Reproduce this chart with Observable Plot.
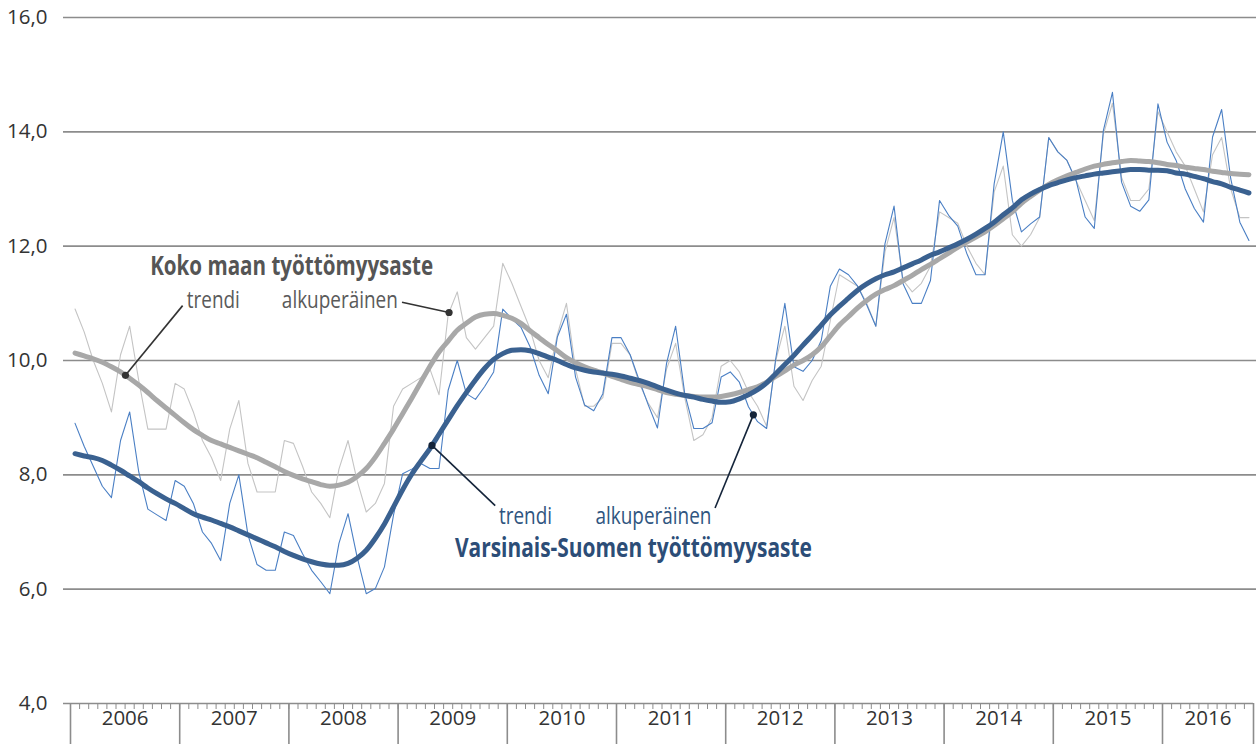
<!DOCTYPE html>
<html><head><meta charset="utf-8">
<script src="https://cdn.jsdelivr.net/npm/d3@7"></script>
<script src="https://cdn.jsdelivr.net/npm/@observablehq/plot@0.6"></script>
<style>
html,body{margin:0;padding:0;background:#fff}
#chart svg{display:block}
</style>
</head><body><div id="chart"></div>
<script>
// ---- data (monthly, Jan 2006 – Oct 2016) ----
const years = [2006, 2007, 2008, 2009, 2010, 2011, 2012, 2013, 2014, 2015, 2016];
const yTicks = [4, 6, 8, 10, 12, 14, 16];

// Koko maan työttömyysaste, alkuperäinen
const kokoAlkup = [
  10.9, 10.5, 10.0, 9.6, 9.1, 10.1, 10.6, 9.65, 8.8, 8.8, 8.8, 9.6,
  9.5, 9.1, 8.6, 8.3, 7.9, 8.8, 9.3, 8.2, 7.7, 7.7, 7.7, 8.6,
  8.55, 8.15, 7.7, 7.5, 7.25, 8.1, 8.6, 7.9, 7.35, 7.5, 7.85, 9.2,
  9.5, 9.6, 9.7, 9.85, 9.4, 10.8, 11.2, 10.4, 10.2, 10.4, 10.6, 11.7,
  11.35, 10.95, 10.55, 10.0, 9.7, 10.45, 11.0, 9.85, 9.2, 9.2, 9.35, 10.3,
  10.3, 10.1, 9.6, 9.25, 9.0, 9.85, 10.3, 9.35, 8.6, 8.7, 9.0, 9.9,
  10.0, 9.8, 9.45, 9.2, 8.85, 10.0, 10.6, 9.55, 9.3, 9.65, 9.9, 10.7,
  11.5, 11.4, 11.3, 11.0, 10.6, 11.9, 12.5, 11.4, 11.2, 11.35, 11.65, 12.6,
  12.5, 12.4, 12.0, 11.7, 11.5, 12.95, 13.4, 12.2, 12.0, 12.2, 12.5, 13.9,
  13.65, 13.5, 13.15, 12.8, 12.45, 13.95, 14.5, 13.2, 12.8, 12.8, 13.0, 14.35,
  14.0, 13.65, 13.4, 13.0, 12.6, 13.6, 13.9, 13.0, 12.5, 12.5
];
// Koko maan työttömyysaste, trendi
const kokoTrendi = [
  10.13, 10.08, 10.03, 9.97, 9.89, 9.80, 9.69, 9.57, 9.44, 9.30, 9.17, 9.04,
  8.91, 8.79, 8.69, 8.60, 8.54, 8.48, 8.42, 8.36, 8.30, 8.22, 8.14, 8.06,
  7.99, 7.93, 7.88, 7.83, 7.80, 7.82, 7.87, 7.97, 8.11, 8.31, 8.55, 8.80,
  9.07, 9.34, 9.62, 9.90, 10.15, 10.34, 10.53, 10.65, 10.76, 10.81, 10.82, 10.79,
  10.74, 10.65, 10.52, 10.40, 10.28, 10.17, 10.05, 9.96, 9.89, 9.83, 9.78, 9.72,
  9.67, 9.62, 9.58, 9.54, 9.49, 9.44, 9.41, 9.39, 9.37, 9.36, 9.36, 9.37,
  9.40, 9.44, 9.49, 9.54, 9.62, 9.72, 9.82, 9.92, 10.00, 10.10, 10.24, 10.43,
  10.62, 10.77, 10.92, 11.05, 11.16, 11.24, 11.31, 11.40, 11.49, 11.59, 11.68, 11.78,
  11.88, 11.98, 12.07, 12.16, 12.25, 12.36, 12.48, 12.60, 12.75, 12.87, 12.98, 13.08,
  13.16, 13.23, 13.29, 13.35, 13.40, 13.43, 13.46, 13.48, 13.50, 13.49, 13.48, 13.46,
  13.43, 13.41, 13.38, 13.36, 13.34, 13.31, 13.29, 13.27, 13.26, 13.25
];
// Varsinais-Suomen työttömyysaste, alkuperäinen
const vsAlkup = [
  8.9, 8.5, 8.15, 7.8, 7.6, 8.6, 9.1, 8.05, 7.4, 7.3, 7.2, 7.9,
  7.8, 7.5, 7.0, 6.8, 6.5, 7.5, 8.0, 6.95, 6.43, 6.33, 6.33, 7.0,
  6.94, 6.62, 6.33, 6.13, 5.92, 6.8, 7.32, 6.56, 5.92, 6.01, 6.39, 7.3,
  8.02, 8.1, 8.2, 8.11, 8.11, 9.48, 10.0, 9.42, 9.32, 9.54, 9.8, 10.9,
  10.73, 10.58, 10.24, 9.74, 9.42, 10.41, 10.81, 9.71, 9.22, 9.12, 9.42, 10.4,
  10.4, 10.1, 9.65, 9.22, 8.82, 9.95, 10.6, 9.42, 8.81, 8.81, 8.91, 9.71,
  9.8, 9.62, 9.19, 8.93, 8.81, 10.03, 11.0, 9.89, 9.81, 10.0, 10.35, 11.3,
  11.6, 11.5, 11.3, 10.97, 10.6, 12.04, 12.7, 11.34, 11.0, 11.0, 11.4, 12.8,
  12.54, 12.35, 11.87, 11.5, 11.5, 13.09, 14.0, 12.8, 12.25, 12.39, 12.51, 13.9,
  13.65, 13.5, 13.15, 12.51, 12.31, 14.02, 14.69, 13.12, 12.7, 12.61, 12.81, 14.49,
  13.82, 13.5, 13.0, 12.66, 12.42, 13.91, 14.39, 13.18, 12.42, 12.1
];
// Varsinais-Suomen työttömyysaste, trendi
const vsTrendi = [
  8.37, 8.33, 8.30, 8.25, 8.17, 8.08, 7.98, 7.88, 7.77, 7.67, 7.58, 7.50,
  7.41, 7.32, 7.26, 7.21, 7.15, 7.09, 7.02, 6.95, 6.88, 6.81, 6.74, 6.66,
  6.59, 6.53, 6.48, 6.44, 6.42, 6.42, 6.45, 6.54, 6.68, 6.89, 7.14, 7.44,
  7.74, 8.01, 8.24, 8.46, 8.71, 8.96, 9.21, 9.44, 9.66, 9.86, 10.02, 10.12,
  10.18, 10.19, 10.17, 10.12, 10.06, 10.00, 9.93, 9.87, 9.83, 9.80, 9.78, 9.76,
  9.73, 9.69, 9.65, 9.60, 9.54, 9.48, 9.43, 9.39, 9.36, 9.32, 9.29, 9.27,
  9.28, 9.33, 9.40, 9.49, 9.61, 9.77, 9.93, 10.09, 10.27, 10.44, 10.62, 10.80,
  10.95, 11.09, 11.23, 11.34, 11.43, 11.50, 11.55, 11.62, 11.69, 11.76, 11.84, 11.90,
  11.97, 12.04, 12.12, 12.21, 12.31, 12.42, 12.55, 12.67, 12.81, 12.91, 12.99, 13.06,
  13.11, 13.16, 13.20, 13.23, 13.26, 13.28, 13.30, 13.32, 13.34, 13.34, 13.33, 13.33,
  13.32, 13.28, 13.26, 13.22, 13.18, 13.13, 13.09, 13.03, 12.98, 12.93
];

// ---- labels (month-index / value space) ----
const kokoTitle = [{text: "Koko maan työttömyysaste", at: 23.8, val: 11.5}];
const kokoLabels = [
  {text: "trendi", at: 15.2, val: 10.91},
  {text: "alkuperäinen", at: 29.1, val: 10.91}
];
const vsTitle = [{text: "Varsinais-Suomen työttömyysaste", at: 61.36, val: 6.57}];
const vsLabels = [
  {text: "trendi", at: 49.5, val: 7.14},
  {text: "alkuperäinen", at: 63.56, val: 7.14}
];
const kokoLeaders = [
  {from: [11.82, 10.96], series: kokoTrendi, at: 5.54},
  {from: [35.93, 11.02], series: kokoAlkup, at: 41.1}
];
const vsLeaders = [
  {from: [46.17, 7.46], series: vsTrendi, at: 39.22},
  {from: [70.33, 7.42], series: vsAlkup, at: 74.54}
];
// rendered widths (px) of the condensed label texts
const labelWidths = {
  "Koko maan työttömyysaste": 283,
  "Varsinais-Suomen työttömyysaste": 357,
  "trendi": 53,
  "alkuperäinen": 116
};

// ---- helpers ----
const n = kokoAlkup.length;
const idx = d3.range(n);
const interp = (arr, t) => { const a = Math.floor(t), f = t - a; return arr[a] + (arr[a + 1] - arr[a]) * f; };
const leaderRows = L => L.map(d => ({x1: d.from[0], y1: d.from[1], x2: d.at, y2: interp(d.series, d.at)}));
const kokoLead = leaderRows(kokoLeaders), vsLead = leaderRows(vsLeaders);
const monthBounds = d3.range(n + 1).map(j => j - 0.5);
const yearBounds = years.map((y, k) => 12 * k - 0.5).concat([n - 0.5]);
const yearCenters = years.map((y, k) => ({year: y, c: (12 * k + Math.min(12 * k + 11, n - 1)) / 2}));

const FONT_C = "'Open Sans','Noto Sans',sans-serif";
const FONT_A = "'Open Sans','Noto Sans',sans-serif";
const GRID = "#8c8c8c";

const labelOpts = (fill, bold) => ({
  x: "at", y: "val", text: "text", lineAnchor: "bottom", textAnchor: "middle",
  fontFamily: FONT_C, fontSize: bold ? 26 : 24.5, fontWeight: bold ? "bold" : "normal", fill
});

const chart = Plot.plot({
  width: 1256,
  height: 744,
  marginLeft: 70,
  marginRight: 3,
  marginTop: 17,
  marginBottom: 41,
  x: {domain: [-0.5, n - 0.5], axis: null},
  y: {domain: [4, 16], axis: null},
  style: {fontFamily: FONT_A, fontSize: "20px", background: "#fff", color: "#333"},
  marks: [
    Plot.ruleY(yTicks.filter(t => t > 4), {stroke: GRID, strokeWidth: 1.6, insetLeft: -7, insetRight: -3}),
    Plot.ruleY([4], {stroke: GRID, strokeWidth: 1.6, insetLeft: -7}),
    Plot.axisX(monthBounds, {tickSize: 6, tickFormat: () => "", stroke: GRID, strokeWidth: 1}),
    Plot.axisX(yearBounds, {tickSize: 41, tickFormat: () => "", stroke: GRID, strokeWidth: 1.6}),
    Plot.text(yearCenters, {x: "c", text: d => String(d.year), frameAnchor: "bottom", dy: 21, fill: "#333", fontSize: 20.5}),
    Plot.axisY(yTicks, {tickSize: 0, tickPadding: 23, tickFormat: d => d.toFixed(1).replace(".", ","), fontSize: 20.5, color: "#333"}),

    Plot.line(idx, {x: i => i, y: i => kokoAlkup[i], stroke: "#c4c4c4", strokeWidth: 1.1}),
    Plot.line(idx, {x: i => i, y: i => vsAlkup[i], stroke: "#4a7fc4", strokeWidth: 1.1}),
    Plot.line(idx, {x: i => i, y: i => kokoTrendi[i], stroke: "#a8a8a8", strokeWidth: 5, curve: "monotone-x", strokeLinecap: "round"}),
    Plot.line(idx, {x: i => i, y: i => vsTrendi[i], stroke: "#3a6190", strokeWidth: 5, curve: "monotone-x", strokeLinecap: "round"}),

    Plot.link(kokoLead, {x1: "x1", y1: "y1", x2: "x2", y2: "y2", stroke: "#333", strokeWidth: 1.6}),
    Plot.dot(kokoLead, {x: "x2", y: "y2", r: 3.6, fill: "#333"}),
    Plot.link(vsLead, {x1: "x1", y1: "y1", x2: "x2", y2: "y2", stroke: "#14243a", strokeWidth: 1.6}),
    Plot.dot(vsLead, {x: "x2", y: "y2", r: 3.6, fill: "#14243a"}),

    Plot.text(kokoTitle, labelOpts("#555555", true)),
    Plot.text(kokoLabels, labelOpts("#5a5a5a", false)),
    Plot.text(vsTitle, labelOpts("#2c4d77", true)),
    Plot.text(vsLabels, labelOpts("#2f5580", false))
  ]
});
// condense the annotation texts to the widths of the original condensed typeface
d3.select(chart).selectAll("text").each(function () {
  const w = labelWidths[this.textContent];
  if (w && !this.querySelector("tspan")) {
    this.setAttribute("textLength", w);
    this.setAttribute("lengthAdjust", "spacingAndGlyphs");
  }
});
document.getElementById("chart").appendChild(chart);
</script>
</body></html>
